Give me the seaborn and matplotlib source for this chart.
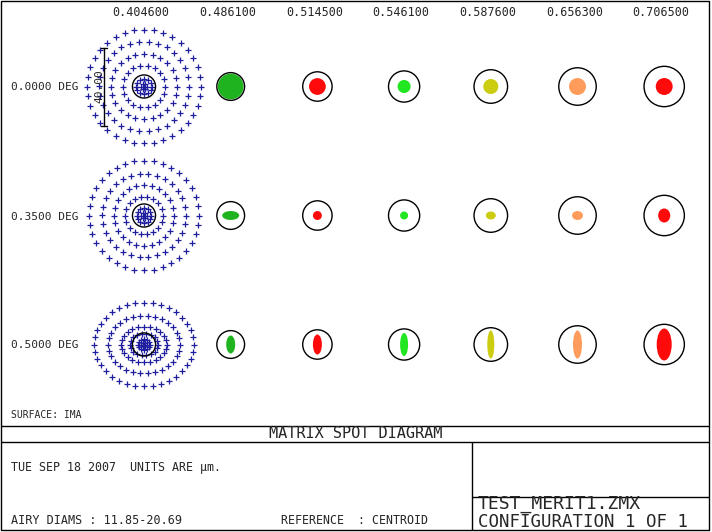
import numpy as np
import pandas as pd
import matplotlib
matplotlib.use("Agg")
import matplotlib.pyplot as plt
from matplotlib.patches import Ellipse, Circle
import seaborn as sns

# ---- data ----
wavelengths = ["0.404600", "0.486100", "0.514500", "0.546100", "0.587600", "0.656300", "0.706500"]
fields = ["0.0000 DEG", "0.3500 DEG", "0.5000 DEG"]
airy_diam_um = [11.85, 14.24, 15.07, 15.99, 17.21, 19.22, 20.69]
spot_colors = ["#1e1e9e", "#1fb41f", "#ff0a0a", "#22e622", "#cccc10", "#ff9c5c", "#ff0a0a"]

# 0.4046 um: ring radii (um) of the hexapolar ray pattern, per field
blue_ring_rx = [[1.5, 4.1, 10.8, 16.9, 23.1, 29.2],
                [1.5, 3.6, 9.7, 15.4, 21.5, 28.2],
                [1.3, 3.1, 7.2, 11.8, 18.5, 25.6]]
blue_ring_ry = [[1.5, 4.1, 10.8, 16.9, 23.1, 29.2],
                [1.5, 3.6, 9.7, 15.4, 21.5, 28.2],
                [1.0, 2.6, 5.6, 9.2, 14.9, 21.5]]

# other wavelengths: spot width / height (um), per field
spot_w = [[13.2, 8.6, 6.7, 7.7, 8.7, 8.7],
          [8.7, 4.6, 4.1, 5.1, 5.6, 6.2],
          [4.6, 4.6, 4.1, 3.6, 4.6, 7.7]]
spot_h = [[13.2, 8.6, 6.7, 7.7, 8.7, 8.7],
          [4.6, 4.6, 4.1, 4.1, 4.6, 7.2],
          [9.2, 10.3, 11.8, 14.4, 14.4, 16.4]]

scale_bar_um = 40.0
scale_label = "40.00"
surface_txt = "SURFACE: IMA"
title_txt = "MATRIX SPOT DIAGRAM"
date_txt = "TUE SEP 18 2007  UNITS ARE µm."
airy_txt = "AIRY DIAMS : 11.85-20.69"
ref_txt = "REFERENCE  : CENTROID"
file_txt = "TEST_MERIT1.ZMX"
config_txt = "CONFIGURATION 1 OF 1"

# ---- layout (pixels) ----
W, H = 712, 532
PX_PER_UM = 1.95
X0, Y0 = 144, 86.5
DX, DY = 86.7, 129.0
pitch_x = DX / PX_PER_UM
pitch_y = DY / PX_PER_UM

sns.set_style("white")
plt.rcParams["font.family"] = ["DejaVu Sans Mono", "DejaVu Sans"]

fig = plt.figure(figsize=(W / 100, H / 100), dpi=100)

# frame + text, pixel coordinates
ax_f = fig.add_axes([0, 0, 1, 1])
ax_f.set_xlim(0, W)
ax_f.set_ylim(H, 0)
ax_f.axis("off")
lk = dict(color="black", lw=1.0, solid_capstyle="butt")
ax_f.plot([1, 709, 709, 1, 1], [1, 1, 530, 530, 1], **lk)
ax_f.plot([1, 709], [426, 426], **lk)
ax_f.plot([1, 709], [442, 442], **lk)
ax_f.plot([472, 472], [442, 530], **lk)
ax_f.plot([472, 709], [497, 497], **lk)

for i, w in enumerate(wavelengths):
    ax_f.text(X0 + i * DX - 3, 12, w, ha="center", va="center", fontsize=8.5)
for j, f in enumerate(fields):
    ax_f.text(11, Y0 + j * DY + 1, f, ha="left", va="center", fontsize=8)
ax_f.text(11, 415, surface_txt, ha="left", va="center", fontsize=7)
ax_f.text(356, 434, title_txt, ha="center", va="center", fontsize=11)
ax_f.text(11, 467, date_txt, ha="left", va="center", fontsize=8.4)
ax_f.text(11, 520, airy_txt, ha="left", va="center", fontsize=8.5)
ax_f.text(281, 520, ref_txt, ha="left", va="center", fontsize=8.4)
ax_f.text(478, 504, file_txt, ha="left", va="center", fontsize=13)
ax_f.text(478, 522, config_txt, ha="left", va="center", fontsize=12.5)

# spot matrix, micron coordinates
ax_m = fig.add_axes([0, 0, 1, 1], facecolor="none")

rows = []
for j in range(len(fields)):
    cy = -j * pitch_y
    rows.append((0.0, cy))
    for k, (rx, ry) in enumerate(zip(blue_ring_rx[j], blue_ring_ry[j]), start=1):
        n = 6 * k
        t = np.arange(n) * 2 * np.pi / n
        for a in t:
            rows.append((rx * np.cos(a), cy + ry * np.sin(a)))
blue_df = pd.DataFrame(rows, columns=["x", "y"])
sns.scatterplot(data=blue_df, x="x", y="y", marker="+", color=spot_colors[0],
                s=16, linewidth=0.9, ax=ax_m, legend=False)

for j in range(len(fields)):
    cy = -j * pitch_y
    for i in range(1, len(wavelengths)):
        cx = i * pitch_x
        ax_m.add_patch(Ellipse((cx, cy), spot_w[j][i - 1], spot_h[j][i - 1],
                               facecolor=spot_colors[i], edgecolor="none"))
    for i in range(len(wavelengths)):
        ax_m.add_patch(Circle((i * pitch_x, cy), airy_diam_um[i] / 2, fill=False,
                              edgecolor="black", lw=1.0))

# scale bar on the first cell
bx = -20.5
half = scale_bar_um / 2
ax_m.plot([bx, bx], [-half, half], color="black", lw=1.0)
ax_m.plot([bx - 1.3, bx + 1.3], [half, half], color="black", lw=1.0)
ax_m.plot([bx - 1.3, bx + 1.3], [-half, -half], color="black", lw=1.0)
ax_m.text(bx - 2.6, 0, scale_label, rotation=90, ha="center", va="center", fontsize=8)

ax_m.set_xlim(-X0 / PX_PER_UM, (W - X0) / PX_PER_UM)
ax_m.set_ylim(-(H - Y0) / PX_PER_UM, Y0 / PX_PER_UM)
ax_m.axis("off")

fig.savefig("out.png", dpi=100)
